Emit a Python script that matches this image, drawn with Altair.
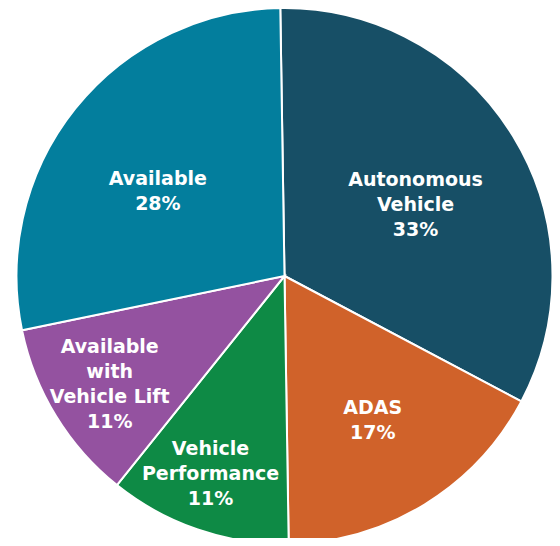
import math
import altair as alt
import pandas as pd

categories = ["Autonomous Vehicle", "ADAS", "Vehicle Performance",
              "Available with Vehicle Lift", "Available"]
label_lines = ["Autonomous\nVehicle", "ADAS", "Vehicle\nPerformance",
               "Available\nwith\nVehicle Lift", "Available"]
shares = [33, 17, 11, 11, 28]
colors = ["#174f66", "#d0622a", "#0e8a45", "#9452a0", "#037e9d"]

df = pd.DataFrame({
    "idx": list(range(len(categories))),
    "category": categories,
    "share": shares,
    "label": [f"{l}\n{s}%" for l, s in zip(label_lines, shares)],
})

# layout (style) settings for the labels: radial distance and small nudges
label_radius = [149, 169, 210, 205, 152]
label_nudge = [(4, 7), (0, 0), (-6, -1), (0, 1), (-8, 11)]
LH = 25

start = -0.0157
CX, CY, R = 276.5, 268, 268

base = alt.Chart(df).encode(
    theta=alt.Theta("share:Q", stack=True,
                    scale=alt.Scale(range=[start, start + 2 * math.pi])),
    order=alt.Order("idx:Q"),
)

arcs = base.mark_arc(outerRadius=R, stroke="white", strokeWidth=2).encode(
    x=alt.value(CX), y=alt.value(CY),
    color=alt.Color("category:N", scale=alt.Scale(domain=categories, range=colors),
                    legend=None),
)

layers = [arcs]
for i in range(len(categories)):
    n_lines = df["label"][i].count("\n") + 1
    ndx, ndy = label_nudge[i]
    layers.append(
        base.mark_text(
            radius=label_radius[i], dx=ndx, dy=ndy - (n_lines - 1) * LH / 2,
            font="DejaVu Sans", fontWeight="bold", fontSize=19, lineHeight=LH,
            color="white", align="center", baseline="middle", lineBreak="\n",
        ).transform_calculate(
            t=f"datum.idx == {i} ? datum.label : ''"
        ).encode(x=alt.value(CX), y=alt.value(CY), text="t:N")
    )

chart = alt.layer(*layers).properties(
    width=544, height=530, padding=0,
    autosize=alt.AutoSizeParams(type="none"),
).configure_view(stroke=None)

chart.save("out.html", embed_options={"renderer": "svg", "actions": False})
